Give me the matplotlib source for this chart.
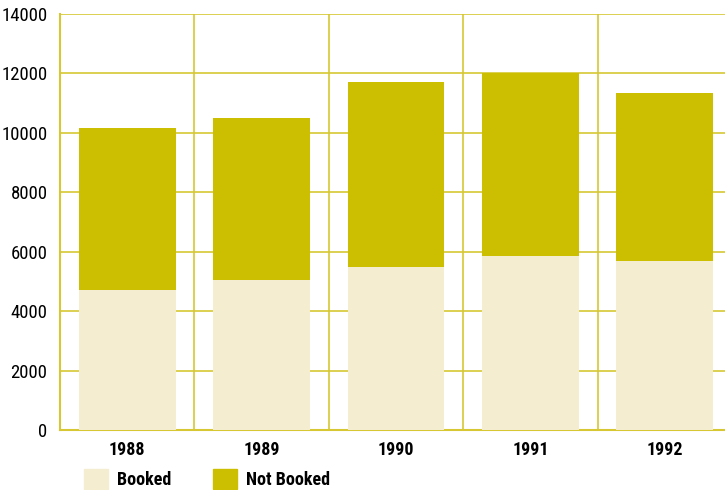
import matplotlib
matplotlib.use('Agg')
import matplotlib.pyplot as plt
from matplotlib.patches import Patch
from matplotlib import font_manager
import numpy as np

# Данные
years = ['1988', '1989', '1990', '1991', '1992']
booked = [4700, 5050, 5500, 5850, 5700]
not_booked = [5450, 5450, 6200, 6150, 5650]
yticks = [0, 2000, 4000, 6000, 8000, 10000, 12000, 14000]

c_booked = '#F4EDCF'
c_not = '#CCBE00'
c_grid = '#D6C733'

# Узкий шрифт, если есть
names = {f.name for f in font_manager.fontManager.ttflist}
fam = 'DejaVu Sans'
for cand in ['Roboto Condensed', 'Open Sans Condensed', 'Liberation Sans Narrow']:
    if cand in names:
        fam = cand
        break
plt.rcParams['font.family'] = [fam, 'DejaVu Sans']
plt.rcParams['font.stretch'] = 'condensed'

fig = plt.figure(figsize=(7.25, 4.9), dpi=100)
ax = fig.add_axes([60 / 725, 60 / 490, 672 / 725, 416 / 490])

x = np.arange(len(years))
ax.bar(x, booked, width=0.72, color=c_booked, zorder=3)
ax.bar(x, not_booked, width=0.72, bottom=booked, color=c_not, zorder=3)

ax.set_xlim(-0.5, len(years) - 0.5)
ax.set_ylim(0, 14000)
ax.set_yticks(yticks)
ax.set_yticklabels([str(v) for v in yticks], fontsize=13.5, stretch='condensed')
ax.set_xticks(x)
ax.set_xticklabels(years, fontsize=13, fontweight='bold', stretch='condensed')
ax.tick_params(axis='y', length=0, pad=9)
ax.tick_params(axis='x', length=0, pad=8)

# Сетка
for v in yticks[1:]:
    ax.axhline(v, color=c_grid, lw=1.2, zorder=1)
for xv in np.arange(0.5, len(years), 1.0):
    ax.axvline(xv, color=c_grid, lw=1.2, zorder=1)

for s in ['top', 'right']:
    ax.spines[s].set_visible(False)
for s in ['left', 'bottom']:
    ax.spines[s].set_color(c_grid)
    ax.spines[s].set_linewidth(1.5)

handles = [Patch(color=c_booked, label='Booked'), Patch(color=c_not, label='Not Booked')]
fig.legend(handles=handles, loc='lower left', bbox_to_anchor=(84 / 725, 1 / 490), ncol=2,
           frameon=False, borderpad=0, borderaxespad=0,
           handlelength=1.33, handleheight=1.33, columnspacing=2.3,
           handletextpad=0.5, prop={'size': 13, 'weight': 'bold', 'stretch': 'condensed'})

fig.savefig('out.png', dpi=100)
